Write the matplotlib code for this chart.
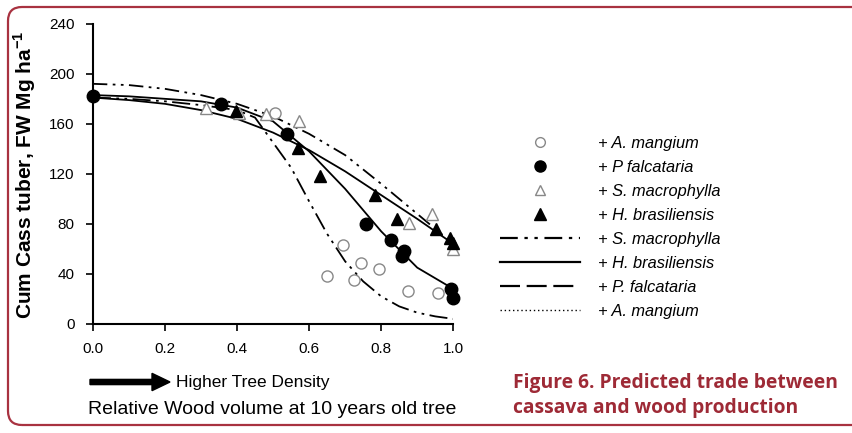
import matplotlib
matplotlib.use('Agg')
import matplotlib.pyplot as plt
from matplotlib.lines import Line2D
from matplotlib.patches import FancyBboxPatch, FancyArrow
from matplotlib.transforms import IdentityTransform

# observed points
am_x = [0.505, 0.649, 0.694, 0.725, 0.745, 0.793, 0.874, 0.958]
am_y = [169, 38, 63, 35, 49, 44, 26, 25]
pf_x = [0.0, 0.356, 0.538, 0.759, 0.826, 0.858, 0.863, 0.993, 1.0]
pf_y = [182, 176, 152, 80, 67, 54, 58, 28, 21]
sm_x = [0.315, 0.405, 0.48, 0.573, 0.877, 0.94, 1.0]
sm_y = [173, 169, 168, 162, 81, 88, 60]
hb_x = [0.397, 0.568, 0.629, 0.784, 0.844, 0.951, 0.99, 1.0]
hb_y = [170, 141, 118, 103, 84, 76, 69, 65]

# fitted curves
fit_x = [0.0, 0.1, 0.2, 0.3, 0.4, 0.5, 0.6, 0.7, 0.8, 0.9, 1.0]
sm_fit = [192, 191, 188, 183, 176, 166, 152, 135, 112, 88, 64]
hb_fit = [181, 179, 176, 171, 164, 153, 139, 122, 103, 84, 64]
pf_fit = [183, 182, 180, 178, 173, 162, 138, 108, 74, 45, 28]
am_fit_x = [0.0, 0.1, 0.2, 0.3, 0.4, 0.45, 0.5, 0.55, 0.6, 0.65, 0.7,
            0.75, 0.8, 0.85, 0.9, 0.95, 1.0]
am_fit = [181, 180, 178, 175, 171, 165, 145, 125, 98, 72, 50,
          34, 22, 14, 9, 6, 4]

xticks = [0.0, 0.2, 0.4, 0.6, 0.8, 1.0]
yticks = [0, 40, 80, 120, 160, 200, 240]

legend_labels = ['+ A. mangium', '+ P falcataria', '+ S. macrophylla', '+ H. brasiliensis',
                 '+ S. macrophylla', '+ H. brasiliensis', '+ P. falcataria', '+ A. mangium']

plt.rcParams['font.family'] = ['Liberation Sans Narrow', 'Liberation Sans', 'DejaVu Sans']
plt.rcParams['mathtext.fontset'] = 'custom'
plt.rcParams['mathtext.rm'] = 'Liberation Sans:bold'

fig = plt.figure(figsize=(8.52, 4.33), dpi=100)
ax = fig.add_axes([0.109, 0.252, 0.423, 0.693])

dashdotdot = (0, (8, 3, 1.5, 3, 1.5, 3))
ax.plot(fit_x, sm_fit, color='black', lw=1.3, linestyle=dashdotdot)
ax.plot(fit_x, hb_fit, color='black', lw=1.3)
ax.plot(fit_x, pf_fit, color='black', lw=1.3)
ax.plot(am_fit_x, am_fit, color='black', lw=1.3, linestyle=(0, (10, 3, 1.5, 3, 1.5, 3)))

ax.plot(am_x, am_y, 'o', ms=8, mfc='white', mec='#888888', mew=1.0, clip_on=False)
ax.plot(pf_x, pf_y, 'o', ms=9, mfc='black', mec='black', clip_on=False)
ax.plot(sm_x, sm_y, '^', ms=9, mfc='white', mec='#888888', mew=1.0, clip_on=False)
ax.plot(hb_x, hb_y, '^', ms=9, mfc='black', mec='black', clip_on=False)

ax.set_xlim(0, 1.0)
ax.set_ylim(0, 240)
ax.set_xticks(xticks)
ax.set_xticklabels(['%.1f' % v for v in xticks])
ax.set_yticks(yticks)
ax.spines['top'].set_visible(False)
ax.spines['right'].set_visible(False)
ax.spines['left'].set_linewidth(1.5)
ax.spines['bottom'].set_linewidth(1.5)
ax.tick_params(direction='out', length=5, width=1.2, labelsize=11, pad=8)

handles = [
    Line2D([], [], ls='none', marker='o', ms=7, mfc='white', mec='#888888'),
    Line2D([], [], ls='none', marker='o', ms=8, mfc='black', mec='black'),
    Line2D([], [], ls='none', marker='^', ms=7, mfc='white', mec='#888888'),
    Line2D([], [], ls='none', marker='^', ms=8, mfc='black', mec='black'),
    Line2D([], [], color='black', lw=1.6, ls=dashdotdot),
    Line2D([], [], color='black', lw=1.6),
    Line2D([], [], color='black', lw=1.6, ls=(0, (9, 3))),
    Line2D([], [], color='black', lw=1.0, ls=(0, (1, 2))),
]
fig.legend(handles, legend_labels, loc='upper left', bbox_to_anchor=(485 / 852, 1 - 121 / 433),
           frameon=False, handlelength=4.9, handletextpad=1.1, labelspacing=0.55,
           prop={'family': ['Liberation Sans', 'DejaVu Sans'], 'style': 'italic', 'size': 11.8})

fig.text(25 / 852, 1 - 175 / 433, r'Cum Cass tuber, FW Mg ha$^{-1}$', rotation=90,
         ha='center', va='center', fontsize=15, fontweight='bold',
         family=['Liberation Sans', 'DejaVu Sans'])

fig.text(272 / 852, 1 - 410 / 433, 'Relative Wood volume at 10 years old tree',
         ha='center', va='center', fontsize=14)
fig.text(176 / 852, 1 - 382 / 433, 'Higher Tree Density', ha='left', va='center', fontsize=12.5)
fig.patches.append(FancyArrow(
    90 / 852, 1 - 382 / 433, 62 / 852, 0, width=0.012, head_width=0.04, head_length=18 / 852,
    length_includes_head=False, color='black', transform=fig.transFigure, figure=fig))

caption_color = '#9e2a36'
fig.text(513 / 852, 1 - 383 / 433, 'Figure 6. Predicted trade between', ha='left', va='center',
         fontsize=13.9, fontweight='bold', color=caption_color, family=['Open Sans', 'DejaVu Sans'])
fig.text(513 / 852, 1 - 408 / 433, 'cassava and wood production', ha='left', va='center',
         fontsize=13.9, fontweight='bold', color=caption_color, family=['Open Sans', 'DejaVu Sans'])

border = FancyBboxPatch((8, 433 - 425), 880, 418, boxstyle='round,pad=0,rounding_size=14',
                        transform=IdentityTransform(), fill=False, edgecolor='#a83240', lw=1.6)
fig.patches.append(border)

fig.savefig('out.png', dpi=100)
plt.close(fig)
